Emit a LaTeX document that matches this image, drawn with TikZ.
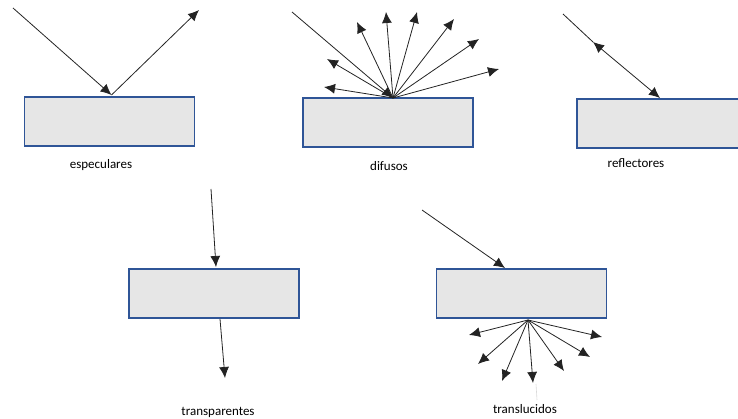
\documentclass[tikz,border=0pt]{standalone}
\usepackage{fontspec}
\setmainfont{Carlito}
\usetikzlibrary{arrows.meta}
\definecolor{slabfill}{RGB}{230,230,230}
\definecolor{slabedge}{RGB}{47,85,151}
\definecolor{raycol}{RGB}{35,35,35}
\tikzset{
  slab/.style={draw=slabedge, fill=slabfill, line width=1.6pt, rectangle,
    minimum width=170pt, minimum height=49pt, inner sep=0pt},
  ray/.style={draw=raycol, line width=0.8pt},
  rayarr/.style={ray, -{Latex[length=11pt,width=10pt]}},
  caption/.style={font=\fontsize{13pt}{15pt}\selectfont, anchor=base, text=black}
}
\begin{document}
\begin{tikzpicture}[x=1pt,y=-1pt]
\useasboundingbox (0,0) rectangle (738,419);

% --- especulares: mirror reflection
\node[slab] (b1) at (109.5,121.5) {};
\coordinate (s1in) at (13,8);
\coordinate (s1hit) at (111.5,95);
\coordinate (s1out) at (199,10);
\draw[rayarr] (s1in) -- (s1hit);
\draw[rayarr] (s1hit) -- (s1out);
\node[caption] (c1) at (101,169) {especulares};

% --- difusos: scattered reflection
\node[slab] (b2) at (388,122.5) {};
\coordinate (d0) at (292,12);
\coordinate (dhit) at (393,98);
\draw[rayarr] (d0) -- (dhit);
\foreach \n/\px/\py in {1/324/87,2/327/59,3/357/22,4/386/12,
                        5/417/12,6/454/19,7/479/39,8/499/69}{
  \coordinate (d\n) at (\px,\py);
  \draw[rayarr] (dhit) -- (d\n);
}
\node[caption] (c2) at (389,171) {difusos};

% --- reflectores: ray sent back the way it came
\node[slab] (b3) at (662,123.5) {};
\coordinate (r0) at (563,14);
\coordinate (rmid) at (593,42);
\coordinate (rhit) at (660,98);
\draw[ray] (r0) -- (rmid);
\draw[ray, {Latex[length=11pt,width=10pt]}-{Latex[length=11pt,width=10pt]}] (rmid) -- (rhit);
\node[caption] (c3) at (636,168) {reflectores};

% --- transparentes: ray passes straight through
\node[slab] (b4) at (214,293.5) {};
\coordinate (t0) at (211,189);
\coordinate (t1) at (216,267);
\coordinate (t2) at (220,319);
\coordinate (t3) at (225,378);
\draw[rayarr] (t0) -- (t1);
\draw[rayarr] (t2) -- (t3);
\node[caption] (c4) at (218,415) {transparentes};

% --- translucidos: ray spread out below
\node[slab] (b5) at (521.5,293.5) {};
\coordinate (l0) at (422,210);
\coordinate (l1) at (505,268);
\coordinate (lsrc) at (528,320);
\draw[rayarr] (l0) -- (l1);
\foreach \n/\px/\py in {1/469/335,2/478/364,3/502/381,4/533/383,
                        5/564/371,6/590/357,7/602/337}{
  \coordinate (u\n) at (\px,\py);
  \draw[rayarr] (lsrc) -- (u\n);
}
% faint guide under the central ray
\coordinate (g0) at (536,384);
\coordinate (g1) at (537,400);
\draw[black!15, line width=0.6pt] (g0) -- (g1);
\node[caption] (c5) at (525,413) {translucidos};
\end{tikzpicture}
\end{document}
